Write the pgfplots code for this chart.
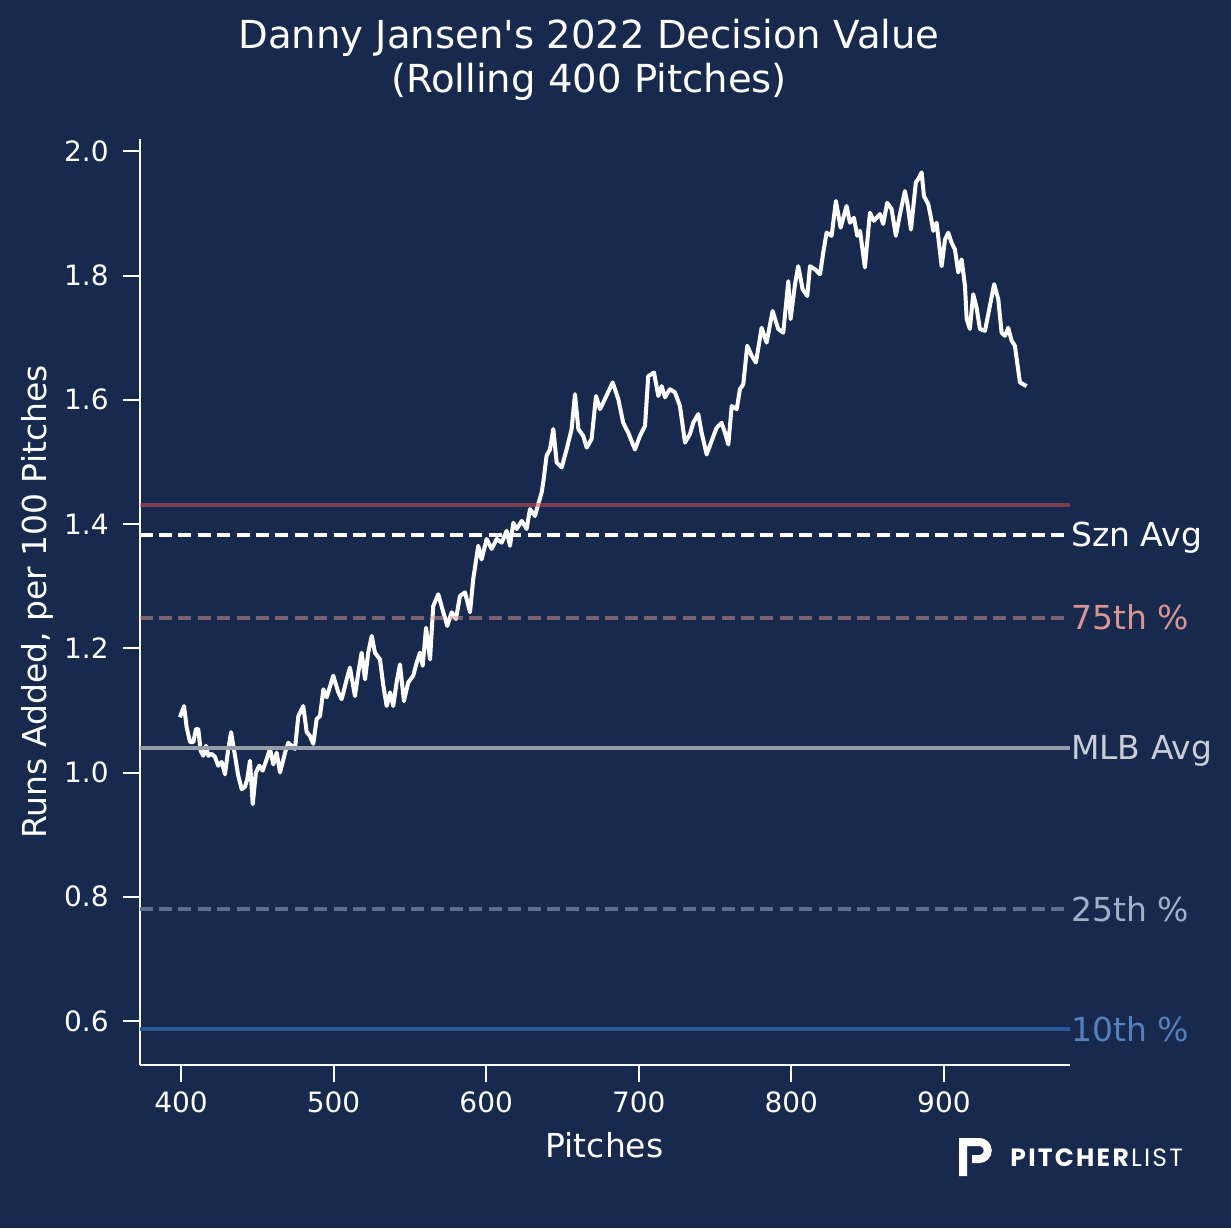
\documentclass[border=0pt]{standalone}
\usepackage{pgfplots}
\pgfplotsset{compat=1.18}
\usepackage{fontspec}
\setmainfont{DejaVu Sans}[Ligatures=TeXOff]
\newfontfamily\logofont[LetterSpace=9]{Poppins}
\definecolor{bg}{RGB}{23,42,77}
\definecolor{redl}{RGB}{205,75,85}
\definecolor{p75l}{RGB}{220,150,150}
\definecolor{p75t}{RGB}{215,150,148}
\definecolor{mlbl}{RGB}{150,156,168}
\definecolor{mlbt}{RGB}{200,205,214}
\definecolor{p25l}{RGB}{90,110,142}
\definecolor{p25t}{RGB}{160,176,200}
\definecolor{p10l}{RGB}{42,86,150}
\definecolor{p10t}{RGB}{86,127,188}

\pgfplotstableread{
x y
399.3 1.089
402.0 1.107
403.7 1.073
405.9 1.049
408.1 1.049
409.8 1.070
411.3 1.070
412.9 1.035
414.6 1.027
416.4 1.043
417.9 1.027
420.1 1.030
422.3 1.025
424.4 1.011
426.7 1.017
428.8 0.997
431.0 1.038
432.8 1.065
435.4 1.027
437.5 0.995
439.8 0.973
441.9 0.977
443.4 0.989
445.2 1.019
447.0 0.949
449.1 1.000
451.3 1.011
453.5 1.003
456.2 1.022
458.3 1.038
460.5 1.013
462.7 1.032
464.9 1.000
468.2 1.032
470.3 1.048
472.5 1.043
474.7 1.038
476.9 1.091
480.1 1.107
482.4 1.065
484.5 1.059
486.7 1.046
488.9 1.086
491.1 1.091
493.3 1.134
495.5 1.121
499.8 1.156
503.1 1.129
505.3 1.118
508.6 1.150
510.7 1.169
514.0 1.123
516.2 1.161
518.4 1.193
520.6 1.150
522.7 1.193
525.0 1.220
527.1 1.193
530.4 1.182
532.6 1.140
534.8 1.107
537.0 1.129
539.1 1.107
541.3 1.145
543.5 1.174
546.1 1.115
548.9 1.145
552.2 1.156
554.5 1.177
556.6 1.193
558.4 1.172
560.6 1.233
563.2 1.182
565.3 1.268
568.6 1.287
571.9 1.258
574.5 1.236
577.4 1.258
580.2 1.247
582.8 1.284
586.1 1.290
589.4 1.258
591.5 1.311
594.8 1.365
597.0 1.343
600.3 1.376
603.6 1.360
606.9 1.376
610.2 1.370
613.4 1.389
615.6 1.365
617.8 1.402
620.0 1.392
623.3 1.405
626.5 1.392
628.7 1.424
632.0 1.413
634.1 1.432
636.4 1.451
637.4 1.467
639.6 1.510
641.8 1.520
644.0 1.553
646.2 1.499
649.5 1.491
652.7 1.520
656.0 1.553
658.2 1.609
660.4 1.553
663.6 1.542
665.9 1.523
669.1 1.537
672.0 1.606
674.6 1.585
677.8 1.601
682.9 1.628
686.6 1.601
689.8 1.563
693.1 1.547
697.5 1.520
700.8 1.542
704.1 1.558
706.2 1.638
710.0 1.644
712.8 1.606
715.0 1.622
717.2 1.604
720.4 1.617
723.7 1.612
727.0 1.590
730.3 1.531
733.6 1.545
735.7 1.563
739.0 1.577
741.2 1.547
744.5 1.512
747.8 1.534
751.0 1.555
754.3 1.563
756.5 1.547
758.7 1.528
760.9 1.590
764.2 1.585
766.3 1.617
768.5 1.625
771.1 1.687
774.0 1.671
776.8 1.660
780.5 1.716
783.8 1.692
787.7 1.743
791.4 1.714
794.7 1.708
798.0 1.791
799.5 1.730
802.4 1.786
804.5 1.815
807.4 1.778
810.4 1.767
812.2 1.815
815.5 1.810
818.8 1.802
820.9 1.837
823.1 1.869
826.4 1.864
829.2 1.920
832.3 1.877
836.2 1.912
838.4 1.885
841.0 1.893
843.2 1.864
845.0 1.872
848.2 1.813
851.5 1.901
854.1 1.888
858.1 1.899
860.2 1.883
862.8 1.917
865.7 1.907
868.5 1.864
871.2 1.899
874.4 1.936
876.0 1.917
878.4 1.874
881.6 1.950
883.1 1.955
885.4 1.966
886.9 1.928
889.7 1.915
891.3 1.896
893.0 1.872
895.2 1.885
898.5 1.815
900.7 1.858
902.8 1.869
905.0 1.853
907.2 1.842
909.4 1.805
911.6 1.826
913.8 1.783
914.9 1.730
917.0 1.714
919.2 1.770
921.4 1.748
923.6 1.714
926.9 1.711
930.1 1.751
932.9 1.786
935.6 1.762
937.8 1.708
940.0 1.703
942.1 1.716
944.4 1.695
946.5 1.687
949.8 1.628
954.2 1.622
}\jansen

\begin{document}
\begin{tikzpicture}
\fill[bg] (0,0) rectangle (615.5pt,614pt);
\begin{axis}[
  at={(69.75pt,81.75pt)}, anchor=south west,
  scale only axis, width=465pt, height=462.5pt,
  xmin=372.8, xmax=982.3, ymin=0.530, ymax=2.019,
  axis lines=left, axis line style={-, white, line width=1pt},
  tick align=outside, major tick length=8.5pt,
  tick style={white, line width=1pt},
  xtick={400,500,600,700,800,900},
  ytick={0.6,0.8,1.0,1.2,1.4,1.6,1.8,2.0},
  /pgf/number format/assume math mode=true,
  tick label style={font=\fontsize{14}{16}\selectfont, text=white, inner sep=0pt},
  yticklabel style={anchor=east, xshift=-6.75pt, /pgf/number format/.cd, fixed, fixed zerofill, precision=1},
  xticklabel style={anchor=base, yshift=-15.25pt},
  xlabel={Pitches},
  ylabel={Runs Added, per 100 Pitches},
  label style={font=\fontsize{16.5}{18}\selectfont, text=white, inner sep=0pt},
  xlabel style={at={(axis description cs:0.5,0)}, anchor=base, yshift=-46.25pt},
  ylabel style={at={(axis description cs:0,0.5)}, anchor=base, yshift=46.25pt},
  clip=false,
]
\addplot[white, line width=2pt, line join=round] table[x=x,y=y] {\jansen};
\addplot[redl, opacity=0.55, line width=2pt] coordinates {(372.8,1.43) (982.3,1.43)};
\addplot[white, line width=2pt, dash pattern=on 6.5pt off 3.2pt] coordinates {(372.8,1.383) (982.3,1.383)};
\addplot[p75l, opacity=0.5, line width=2pt, dash pattern=on 6.5pt off 3.2pt] coordinates {(372.8,1.249) (982.3,1.249)};
\addplot[mlbl, line width=2pt] coordinates {(372.8,1.040) (982.3,1.040)};
\addplot[p25l, line width=2pt, dash pattern=on 6.5pt off 3.2pt] coordinates {(372.8,0.780) (982.3,0.780)};
\addplot[p10l, line width=2pt] coordinates {(372.8,0.587) (982.3,0.587)};
\begin{scope}[every node/.style={anchor=base west, inner sep=0pt, font=\fontsize{16.5}{18}\selectfont, xshift=0.6pt, yshift=-6pt}]
\node[text=white] at (axis cs:982.3,1.383) {Szn Avg};
\node[text=p75t] at (axis cs:982.3,1.249) {75th \%};
\node[text=mlbt] at (axis cs:982.3,1.040) {MLB Avg};
\node[text=p25t] at (axis cs:982.3,0.780) {25th \%};
\node[text=p10t] at (axis cs:982.3,0.587) {10th \%};
\end{scope}
\end{axis}
\node[anchor=base, text=white, font=\fontsize{19.3}{22}\selectfont, inner sep=0pt] at (294.5pt,589.5pt) {Danny Jansen's 2022 Decision Value};
\node[anchor=base, text=white, font=\fontsize{19.3}{22}\selectfont, inner sep=0pt] at (294.5pt,567.5pt) {(Rolling 400 Pitches)};
% logo
\draw[white, line width=4pt] (481.5pt,26pt) -- (481.5pt,43pt) -- (489.6pt,43pt) arc[start angle=90, end angle=-90, radius=4.25pt] -- (486pt,34.5pt);
\node[anchor=base west, inner sep=0pt, text=white, font=\logofont\fontsize{12.5}{14}\selectfont] at (505pt,30.65pt) {\textbf{PITCHER}LIST};
\pgfresetboundingbox
\useasboundingbox (0,0) rectangle (615.5pt,614pt);
\end{tikzpicture}
\end{document}
